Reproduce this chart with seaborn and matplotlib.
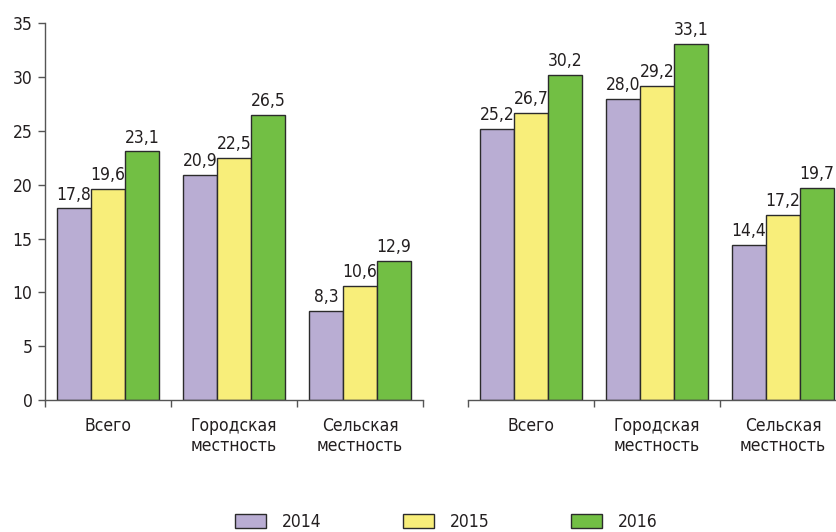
import matplotlib
matplotlib.use("Agg")
import matplotlib.pyplot as plt
import seaborn as sns
import pandas as pd
from matplotlib.patches import Patch

categories = ["Всего", "Городская\nместность", "Сельская\nместность"]
years = ["2014", "2015", "2016"]
left_2014 = [17.8, 20.9, 8.3]
left_2015 = [19.6, 22.5, 10.6]
left_2016 = [23.1, 26.5, 12.9]
right_2014 = [25.2, 28.0, 14.4]
right_2015 = [26.7, 29.2, 17.2]
right_2016 = [30.2, 33.1, 19.7]
yticks = [0, 5, 10, 15, 20, 25, 30, 35]

colors = ["#B9ADD3", "#F8EE7A", "#72BF44"]
edge = "#2b2b2b"
txt = "#231F20"
axc = "#555555"

sns.set_theme(style="white")
plt.rcParams["font.family"] = ["DejaVu Sans"]
plt.rcParams["font.stretch"] = "condensed"
plt.rcParams["font.size"] = 12.5

def make_df(a, b, c):
    rows = []
    for yr, vals in zip(years, [a, b, c]):
        for cat, v in zip(categories, vals):
            rows.append({"cat": cat, "year": yr, "val": v})
    return pd.DataFrame(rows)

fig = plt.figure(figsize=(8.37, 5.32), dpi=100)
ax1 = fig.add_axes([45/837, 132/532, 378/837, 376.7/532])
ax2 = fig.add_axes([468/837, 132/532, 378/837, 376.7/532])

for ax, data, show_y in [(ax1, (left_2014, left_2015, left_2016), True),
                         (ax2, (right_2014, right_2015, right_2016), False)]:
    df = make_df(*data)
    sns.barplot(data=df, x="cat", y="val", hue="year", order=categories,
                hue_order=years, palette=colors, width=0.81, ax=ax,
                edgecolor=edge, linewidth=1.0, legend=False, saturation=1)
    for cont, vals in zip(ax.containers, data):
        ax.bar_label(cont, labels=[f"{v:.1f}".replace(".", ",") for v in vals],
                     padding=3.5, color=txt, fontsize=12.5)
    ax.set_xlim(-0.5, 2.5)
    ax.set_ylim(0, 35)
    ax.set_xlabel("")
    ax.set_ylabel("")
    ax.set_xticks([-0.5, 0.5, 1.5, 2.5])
    ax.set_xticklabels([])
    ax.set_xticks([0, 1, 2], minor=True)
    ax.set_xticklabels(categories, minor=True, color=txt, fontsize=12.5,
                       linespacing=1.15)
    ax.tick_params(axis="x", which="major", length=5, width=1, color=axc,
                   direction="out", bottom=True)
    ax.tick_params(axis="x", which="minor", length=0, pad=12.5, bottom=True)
    for s in ["top", "right"]:
        ax.spines[s].set_visible(False)
    ax.spines["bottom"].set_color(axc)
    ax.spines["bottom"].set_linewidth(1)
    if show_y:
        ax.set_yticks(yticks)
        ax.set_yticklabels([str(t) for t in yticks], color=txt, fontsize=12.5)
        ax.tick_params(axis="y", length=5, width=1, color=axc, pad=4, left=True)
        ax.spines["left"].set_color(axc)
        ax.spines["left"].set_linewidth(1)
    else:
        ax.spines["left"].set_visible(False)
        ax.set_yticks([])
    ax.set_facecolor("none")

handles = [Patch(facecolor=c, edgecolor=edge, linewidth=1) for c in colors]
fig.legend(handles, years, loc="center", bbox_to_anchor=(446/837, 1 - 522/532),
           ncol=3, frameon=False, fontsize=12.5, handlelength=1.8,
           handleheight=0.9, handletextpad=0.9, columnspacing=4.7,
           labelcolor=txt)

fig.savefig("out.png", dpi=100, facecolor="white")
